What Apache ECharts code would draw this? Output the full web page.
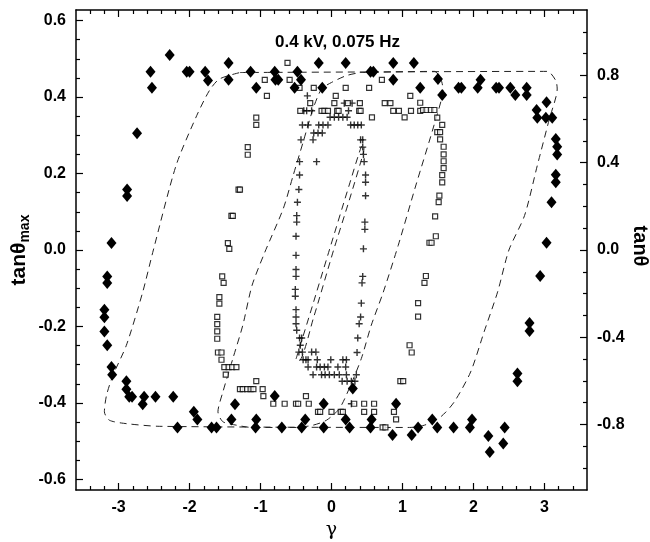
<!DOCTYPE html>
<html>
<head>
<meta charset="utf-8">
<script src="https://cdn.jsdelivr.net/npm/echarts@6/dist/echarts.min.js"></script>
</head>
<body style="margin:0">
<div id="main" style="width:650px;height:542px;"></div>
<script type="text/javascript">
// measured points, [gamma, tan(theta)max]
var diamonds = [
  [-2.28,0.510],[-2.55,0.466],[-2.53,0.424],[-2.74,0.305],[-2.88,0.158],[-2.88,0.141],[-3.10,0.018],
  [-2.04,0.466],[-2.00,0.466],[-1.78,0.466],[-1.74,0.443],[-1.45,0.489],[-1.45,0.445],[-1.14,0.466],
  [-1.06,0.424],[-0.80,0.466],[-0.79,0.445],[-0.75,0.445],[-0.48,0.466],[-0.43,0.445],[-0.52,0.424],
  [-0.13,0.424],[-0.18,0.489],[0.20,0.489],[0.55,0.466],[0.59,0.466],[0.87,0.489],[0.87,0.445],
  [1.16,0.489],[1.25,0.424],[1.50,0.447],[1.56,0.405],[1.79,0.424],[1.83,0.424],[2.10,0.445],
  [2.06,0.424],[2.32,0.424],[2.36,0.424],[2.52,0.424],[2.59,0.405],[2.75,0.424],[2.75,0.405],
  [3.03,0.386],[2.89,0.366],[2.90,0.346],[3.02,0.346],[3.11,0.346],[3.16,0.290],[3.18,0.270],
  [3.18,0.250],[3.16,0.197],[3.16,0.177],[3.10,0.125],[3.03,0.019],[2.94,-0.068],[2.79,-0.191],
  [2.79,-0.212],[2.62,-0.323],[2.62,-0.343],
  [-3.16,-0.069],[-3.16,-0.086],[-3.20,-0.156],[-3.20,-0.176],[-3.20,-0.213],[-3.16,-0.249],
  [-3.10,-0.306],[-3.09,-0.326],[-2.89,-0.343],[-2.89,-0.364],[-2.85,-0.384],[-2.81,-0.384],
  [-2.66,-0.403],[-2.64,-0.384],[-2.48,-0.384],[-2.23,-0.384],[-1.94,-0.423],[-1.89,-0.443],
  [-2.17,-0.464],[-1.69,-0.464],[-1.62,-0.464],[-1.36,-0.403],[-1.41,-0.443],
  [-0.80,-0.382],[-1.06,-0.443],[-1.07,-0.464],[-0.70,-0.464],[-0.37,-0.443],[-0.42,-0.464],
  [-0.11,-0.402],[-0.11,-0.464],[0.20,-0.443],[0.255,-0.464],[0.30,-0.362],[0.565,-0.443],
  [0.55,-0.464],[0.91,-0.402],[0.86,-0.484],[1.13,-0.484],[1.22,-0.464],[1.42,-0.443],
  [1.49,-0.464],[1.72,-0.464],[1.95,-0.464],[1.98,-0.443],[2.21,-0.486],[2.23,-0.528],
  [2.44,-0.464],[2.42,-0.506]
];
var squares = [
  [-0.62,0.489],[-0.94,0.445],[-0.59,0.445],[-0.45,0.424],[-0.25,0.424],[-0.91,0.403],[0.06,0.403],
  [-0.30,0.384],[0.20,0.424],[0.53,0.424],[0.71,0.445],[1.11,0.403],[0.04,0.384],[0.23,0.384],
  [0.40,0.384],[0.75,0.384],[0.83,0.384],[1.25,0.385],
  [-0.44,0.364],[-0.14,0.364],[-0.10,0.364],[-0.05,0.364],[0.08,0.364],[0.10,0.364],[0.39,0.364],
  [0.41,0.364],[0.87,0.364],[0.95,0.364],[1.12,0.364],[1.25,0.364],[1.29,0.366],[1.34,0.366],
  [1.40,0.366],[1.45,0.366],[0.57,0.347],[1.03,0.347],[-1.06,0.346],[-1.06,0.327],
  [1.49,0.346],[1.56,0.327],[1.49,0.308],[1.53,0.308],[1.53,0.289],[1.58,0.270],[1.58,0.250],
  [1.58,0.232],[1.58,0.214],[1.56,0.196],[1.56,0.177],[1.52,0.142],[1.51,0.125],[1.46,0.088],
  [1.47,0.036],[1.38,0.019],[1.41,0.019],
  [1.33,-0.068],[1.31,-0.086],[1.22,-0.139],[1.22,-0.174],[1.10,-0.249],[1.13,-0.268],
  [0.97,-0.343],[1.01,-0.343],
  [-1.06,-0.343],[-1.29,-0.364],[-1.25,-0.364],[-1.19,-0.364],[-1.14,-0.364],[-1.10,-0.364],
  [-0.97,-0.364],[-0.96,-0.382],[-0.36,-0.382],[-0.82,-0.402],[-0.66,-0.402],[-0.50,-0.402],
  [-0.47,-0.402],[-0.32,-0.402],[0.32,-0.402],[0.46,-0.402],[0.60,-0.402],[-0.19,-0.423],
  [-0.16,-0.423],[0.0,-0.423],[0.13,-0.423],[0.16,-0.423],[0.46,-0.423],[0.60,-0.423],
  [0.88,-0.423],[0.91,-0.443],[0.72,-0.464],[0.76,-0.464],
  [-1.18,0.269],[-1.18,0.249],[-1.31,0.158],[-1.29,0.158],[-1.41,0.089],[-1.39,0.089],
  [-1.46,0.018],[-1.44,0.003],[-1.54,-0.069],[-1.52,-0.086],[-1.58,-0.123],[-1.58,-0.140],
  [-1.61,-0.175],[-1.61,-0.194],[-1.61,-0.213],[-1.61,-0.232],[-1.60,-0.268],[-1.55,-0.268],
  [-1.55,-0.287],[-1.51,-0.306],[-1.45,-0.306],[-1.40,-0.306],[-1.34,-0.306],[-1.49,-0.326]
];
var pluses = [
  [-0.34,0.403],[-0.39,0.364],[-0.35,0.364],[-0.28,0.364],[0.24,0.364],[0.18,0.384],[0.29,0.384],
  [-0.02,0.347],[0.04,0.347],[0.10,0.347],[0.16,0.347],[0.22,0.347],
  [-0.41,0.327],[-0.33,0.327],[-0.18,0.327],[-0.12,0.327],[-0.05,0.327],[0.27,0.327],[0.32,0.327],
  [0.37,0.327],[0.42,0.327],[-0.25,0.306],[-0.19,0.306],[-0.13,0.306],
  [-0.43,0.288],[-0.26,0.288],[0.41,0.288],[0.44,0.288],[0.44,0.269],[0.45,0.250],
  [-0.45,0.231],[-0.21,0.231],[0.46,0.231],[-0.45,0.196],[0.48,0.196],[0.48,0.177],
  [-0.46,0.158],[0.48,0.142],[-0.48,0.125],[-0.49,0.090],[-0.49,0.073],[0.47,0.073],[0.47,0.054],
  [-0.50,0.036],[0.45,0.003],[-0.50,-0.014],[-0.50,-0.051],[-0.50,-0.069],[-0.51,-0.103],
  [-0.51,-0.121],[-0.50,-0.156],[-0.50,-0.175],[-0.50,-0.193],[-0.49,-0.210],
  [-0.45,-0.230],[-0.42,-0.230],[-0.44,-0.249],[-0.46,-0.267],[-0.41,-0.267],[-0.28,-0.267],
  [-0.22,-0.267],[-0.40,-0.287],[-0.36,-0.287],[-0.33,-0.287],[-0.20,-0.287],[-0.01,-0.287],
  [0.16,-0.287],[0.21,-0.287],[-0.33,-0.306],[-0.21,-0.306],[-0.16,-0.306],[-0.10,-0.306],
  [-0.05,-0.306],[0.09,-0.306],[0.20,-0.306],[-0.26,-0.326],[-0.14,-0.326],[-0.09,-0.326],
  [-0.03,-0.326],[0.04,-0.326],[0.11,-0.326],[0.21,-0.326],[0.35,-0.326],
  [0.15,-0.343],[0.22,-0.343],[0.28,-0.343],[0.33,-0.343],
  [0.44,-0.069],[0.43,-0.086],[0.42,-0.139],[0.41,-0.175],[0.39,-0.193],[0.37,-0.230],
  [0.36,-0.268],[0.28,-0.402]
];
// dashed model loops
var outerLoop = [
  [-1.29,0.464],[3.04,0.467],[3.16,0.443],[3.18,0.421],[3.07,0.343],[2.90,0.221],[2.72,0.090],
  [2.50,0.0],[2.34,-0.110],[2.15,-0.214],[1.96,-0.319],[1.73,-0.397],[1.54,-0.436],[1.31,-0.458],
  [1.10,-0.464],[-2.42,-0.461],[-2.89,-0.454],[-3.13,-0.445],[-3.20,-0.423],[-3.17,-0.380],
  [-3.08,-0.328],[-2.89,-0.249],[-2.66,-0.110],[-2.51,0.0],[-2.19,0.221],[-1.90,0.351],
  [-1.72,0.417],[-1.58,0.447],[-1.29,0.464]
];
var middleLoop = [
  [0.40,0.464],[1.45,0.467],[1.54,0.447],[1.57,0.421],[1.45,0.33],[1.19,0.17],[0.94,0.012],
  [0.73,-0.11],[0.56,-0.197],[0.42,-0.284],[0.25,-0.362],[0.11,-0.415],[-0.07,-0.445],
  [-0.26,-0.458],[-0.5,-0.464],[-1.12,-0.464],[-1.34,-0.458],[-1.53,-0.449],[-1.60,-0.423],
  [-1.53,-0.371],[-1.39,-0.284],[-1.25,-0.197],[-1.12,-0.093],[-0.94,-0.006],[-0.68,0.108],
  [-0.54,0.195],[-0.40,0.282],[-0.26,0.369],[-0.14,0.421],[0.0,0.438],[0.21,0.456],[0.40,0.464]
];
var innerLoop = [
  [-0.50,-0.285],[-0.30,-0.165],[-0.03,0.0],[0.25,0.17],[0.42,0.27],[0.46,0.275],[0.45,0.255],
  [0.25,0.13],[0.03,0.0],[-0.25,-0.175],[-0.46,-0.29],[-0.50,-0.285]
];
var xLabels = [-3, -2, -1, 0, 1, 2, 3];
var yLeftLabels = [-0.6, -0.4, -0.2, 0.0, 0.2, 0.4, 0.6];
var yRightLabels = [-0.8, -0.4, 0.0, 0.4, 0.8];

function steps(a, b, d, skip) {
  var r = [];
  for (var i = Math.round(a / d); i <= Math.round(b / d); i++) {
    var v = +(i * d).toFixed(3);
    if (skip.indexOf(v) < 0) r.push(v);
  }
  return r;
}
var xMinor = steps(-3.4, 3.4, 0.2, xLabels);
var yLeftMinor = steps(-0.6, 0.6, 0.05, yLeftLabels);
var yRightMinor = steps(-1.0, 1.0, 0.1, [-0.8, -0.4, 0, 0.4, 0.8]);

var labelFont = { color: '#000', fontSize: 16, fontWeight: 'bold', fontFamily: 'Liberation Sans' };
var XMIN = -3.6, XMAX = 3.6, YMIN = -0.6275, YMAX = 0.6275, RMIN = -1.1, RMAX = 1.1;

function frameAxis(pos, min, max, ticks, len, showLine, labels, fmt) {
  return {
    type: 'value', position: pos, min: min, max: max, gridIndex: 0,
    axisLine: { show: showLine, onZero: false, lineStyle: { color: '#000', width: 1.5 } },
    axisTick: { show: true, inside: true, length: len, customValues: ticks, lineStyle: { color: '#000', width: 1.2 } },
    axisLabel: labels ? Object.assign({ show: true, customValues: labels, margin: 10, formatter: fmt }, labelFont) : { show: false },
    splitLine: { show: false }
  };
}

var myChart = echarts.init(document.getElementById('main'));

var xAxes = [
  frameAxis('bottom', XMIN, XMAX, xLabels, 7, true, xLabels, function (v) { return String(v); }),
  frameAxis('bottom', XMIN, XMAX, xMinor, 4, false),
  frameAxis('top', XMIN, XMAX, xLabels, 7, true),
  frameAxis('top', XMIN, XMAX, xMinor, 4, false)
];
xAxes[0].name = 'γ';
xAxes[0].nameLocation = 'middle';
xAxes[0].nameGap = 26;
xAxes[0].nameTextStyle = { color: '#000', fontSize: 19, fontFamily: 'DejaVu Serif' };

var yAxes = [
  frameAxis('left', YMIN, YMAX, yLeftLabels, 7, true, yLeftLabels, function (v) { return v.toFixed(1); }),
  frameAxis('left', YMIN, YMAX, yLeftMinor, 4, false),
  frameAxis('right', RMIN, RMAX, yRightLabels, 7, true, yRightLabels, function (v) { return v.toFixed(1); }),
  frameAxis('right', RMIN, RMAX, yRightMinor, 4, false)
];
yAxes[0].name = '{a|tanθ}{b|max}';
yAxes[0].nameLocation = 'middle';
yAxes[0].nameGap = 44;
yAxes[0].nameMoveOverlap = false;
yAxes[0].nameTextStyle = {
  color: '#000', fontFamily: 'Liberation Sans',
  rich: {
    a: { fontSize: 21, fontWeight: 'bold', fontFamily: 'Liberation Sans', color: '#000' },
    b: { fontSize: 14, fontWeight: 'bold', fontFamily: 'Liberation Sans', color: '#000', padding: [12, 0, 0, 0] }
  }
};

var dashStyle = { color: '#222', width: 1, type: [7, 5] };
function loop(name, pts) {
  return {
    name: name, type: 'line', data: pts, showSymbol: false, smooth: 0.25,
    lineStyle: dashStyle, silent: true, z: 1
  };
}

var option = {
  backgroundColor: '#fff',
  animation: false,
  title: {
    text: '0.4 kV, 0.075 Hz',
    left: 270, top: 29,
    textStyle: { color: '#000', fontSize: 17, fontWeight: 'bold', fontFamily: 'Liberation Sans' }
  },
  grid: { left: 76, right: 63, top: 10, bottom: 52, containLabel: false, outerBoundsMode: 'none' },
  xAxis: xAxes,
  yAxis: yAxes,
  // right-hand axis title, turned to read downwards
  graphic: [{
    type: 'text', x: 640, y: 246, rotation: -Math.PI / 2,
    style: {
      text: 'tanθ', fill: '#000', font: 'bold 20px "Liberation Sans"',
      textAlign: 'center', textVerticalAlign: 'middle'
    }
  }],
  series: [
    loop('outer', outerLoop),
    loop('middle', middleLoop),
    loop('inner', innerLoop),
    {
      name: 'plus', type: 'scatter', data: pluses, z: 3,
      symbol: 'path://M4,0h2v10h-2zM0,4h10v2h-10z', symbolSize: 7,
      itemStyle: { color: '#000' }
    },
    {
      name: 'square', type: 'scatter', data: squares, z: 4,
      symbol: 'rect', symbolSize: 5,
      itemStyle: { color: '#fff', borderColor: '#000', borderWidth: 1.2 }
    },
    {
      name: 'diamond', type: 'scatter', data: diamonds, z: 5,
      symbol: 'diamond', symbolSize: [10, 12],
      itemStyle: { color: '#000', opacity: 1 }
    }
  ]
};
myChart.setOption(option);
</script>
</body>
</html>
